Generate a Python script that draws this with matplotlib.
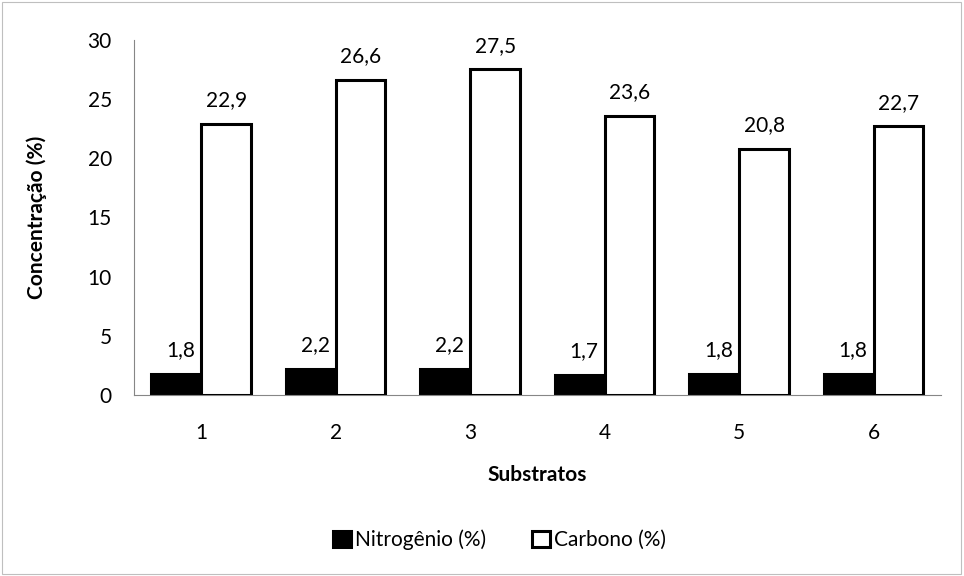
import matplotlib

matplotlib.use("Agg")
import matplotlib.pyplot as plt
import numpy as np
from matplotlib.patches import Rectangle

plt.rcParams["font.family"] = ["Lato", "DejaVu Sans"]

substratos = ["1", "2", "3", "4", "5", "6"]
nitrogenio = [1.8, 2.2, 2.2, 1.7, 1.8, 1.8]
carbono = [22.9, 26.6, 27.5, 23.6, 20.8, 22.7]
GRAY = "#868686"
FS = 15

fig = plt.figure(figsize=(9.64, 5.76), dpi=100)
ax = fig.add_axes([0.139, 0.314, 0.837, 0.617])

x = np.arange(len(substratos))
w = 0.37
bn = ax.bar(x - w / 2, nitrogenio, w, color="black", edgecolor="black", lw=2.2, zorder=2)
bc = ax.bar(x + w / 2, carbono, w, color="white", edgecolor="black", lw=2.2, zorder=3)

for xi, v in zip(x, nitrogenio):
    ax.annotate(f"{v:.1f}".replace(".", ","), (xi - w / 2, v), xytext=(3, 17),
                textcoords="offset points", ha="center", va="center", fontsize=FS)
for xi, v in zip(x, carbono):
    ax.annotate(f"{v:.1f}".replace(".", ","), (xi + w / 2, v), xytext=(0, 17),
                textcoords="offset points", ha="center", va="center", fontsize=FS)

ax.set_xlim(-0.5, len(x) - 0.5)
ax.set_ylim(0, 30)
ax.set_yticks(range(0, 31, 5))
ax.set_xticks(x, substratos)
ax.tick_params(axis="both", length=0, labelsize=FS, colors="black")
ax.tick_params(axis="x", pad=20)
ax.tick_params(axis="y", pad=16)
for s in ("top", "right"):
    ax.spines[s].set_visible(False)
for s in ("left", "bottom"):
    ax.spines[s].set_color(GRAY)
    ax.spines[s].set_linewidth(0.8)

ax.set_xlabel("Substratos", fontsize=FS, fontweight="bold", labelpad=16)
ax.set_ylabel("Concentração (%)", fontsize=FS, fontweight="bold", labelpad=29)

fig.legend([bn, bc], ["Nitrogênio (%)", "Carbono (%)"], loc="center",
           bbox_to_anchor=(0.518, 0.0625), ncol=2, frameon=False, fontsize=FS,
           handlelength=0.85, handleheight=0.85, handletextpad=0.2, columnspacing=2.2)

fig.patches.append(Rectangle((0.002, 0.004), 0.995, 0.992, transform=fig.transFigure,
                             fill=False, edgecolor="#bfbfbf", lw=0.8))

fig.savefig("out.png", dpi=100, facecolor="white")
